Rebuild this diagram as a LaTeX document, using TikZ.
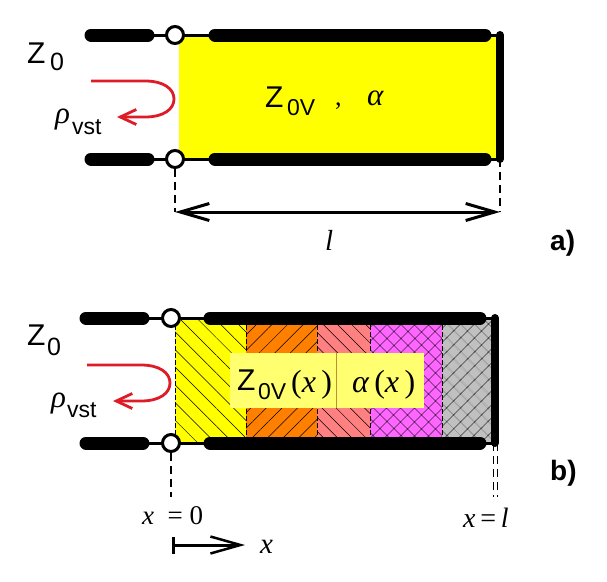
\documentclass[tikz,border=0pt]{standalone}
\usepackage{fontspec}
\setmainfont{Liberation Sans}
\newfontfamily\serifface{Liberation Serif}
\usetikzlibrary{arrows.meta}
\usetikzlibrary{patterns.meta}
\newcommand{\fsz}[1]{\fontsize{#1}{#1}\selectfont}
\tikzset{
	lead/.style={line width=13pt, line cap=round},
	wire/.style={line width=3pt},
	endbar/.style={line width=8pt, line cap=round},
	port/.style={circle, draw, line width=3pt, fill=white, minimum size=17pt, inner sep=0pt},
	guide/.style={line width=1.5pt, dash pattern=on 8pt off 5pt},
	guidethin/.style={line width=1pt, dash pattern=on 8pt off 5pt},
	reflect/.style={draw={rgb,255:red,222;green,28;blue,40}, line width=2.8pt, -{Straight Barb[length=16pt,width=15pt,line width=2.8pt]}},
	span/.style={line width=3pt, {Straight Barb[length=29pt,width=17pt,line width=3pt]}-{Straight Barb[length=29pt,width=17pt,line width=3pt]}},
	divider/.style={line width=.7pt, dash pattern=on 5pt off 2pt},
	hatchback/.style={pattern={Lines[angle=-45,distance=#1,line width=.5pt]}},
	hatchfwd/.style={pattern={Lines[angle=45,distance=#1,line width=.5pt]}},
	hatchcross/.style={pattern={Hatch[angle=45,distance=10.5pt,line width=.6pt]}},
}
\definecolor{segyellow}{RGB}{255,255,0}
\definecolor{segorange}{RGB}{255,128,0}
\definecolor{segsalmon}{RGB}{255,128,128}
\definecolor{segmagenta}{RGB}{255,102,255}
\definecolor{seggray}{RGB}{192,192,192}
\definecolor{labelyellow}{RGB}{255,255,112}
\begin{document}
\begin{tikzpicture}[x=1pt, y=-1pt]
	\useasboundingbox (0,0) rectangle (607,581);

	% part a
	\fill[segyellow] (179,35) rectangle (497,159);

	\begin{scope}[every node/.style={port}]
		\coordinate (aTL) at (91,35);
		\coordinate (aTA) at (148,35);
		\coordinate (aTB) at (215,35);
		\coordinate (aTC) at (485,35);
		\coordinate (aTR) at (500,35);
		\coordinate (aBL) at (91,159);
		\coordinate (aBA) at (148,159);
		\coordinate (aBB) at (215,159);
		\coordinate (aBC) at (485,159);
		\coordinate (aBR) at (500,159);
		\draw[wire] (aTA) -- (aTB) (aBA) -- (aBB) (aTC) -- (aTR) (aBC) -- (aBR);
		\draw[lead] (aTL) -- (aTA);
		\draw[lead] (aTB) -- (aTC);
		\draw[lead] (aBL) -- (aBA);
		\draw[lead] (aBB) -- (aBC);
		\draw[endbar] (aTR) -- (aBR);
		\node (aPortT) at (175,35) {};
		\node (aPortB) at (175,159) {};
	\end{scope}

	\coordinate (aDimL) at (175,212);
	\coordinate (aDimR) at (500,212);
	\draw[guide] (aPortB) -- (aDimL);
	\draw[guide] (aBR) -- (aDimR);
	\draw[span] (aDimL) -- (aDimR);

	\coordinate (aRhoA) at (91,81);
	\coordinate (aRhoB) at (117,117);
	\draw[reflect] (aRhoA) -- (145,81) .. controls (164,81) and (174,89) .. (174,99)
		.. controls (174,109) and (164,117) .. (145,117) -- (aRhoB);

	\begin{scope}[every node/.style={inner sep=0pt, anchor=base west}]
		\node (aZ) at (27,63) {\fsz{30}Z};
		\node (aZsub) at (50,70) {\fsz{25}0};
		\node (aRho) at (55,123) {\fsz{31}\serifface\itshape ρ};
		\node (aVst) at (72,134) {\fsz{23}vst};
		\node (aLine) at (265,107) {\fsz{30}Z};
		\node (aLsub) at (287,115) {\fsz{23}0V};
		\node (aComma) at (335,105) {\fsz{26}\serifface ,};
		\node (aAlpha) at (367,105) {\fsz{31}\serifface\itshape α};
		\node (aLen) at (325,250) {\fsz{29}\serifface\itshape l};
		\node (aTag) at (550,250) {\fsz{28}\bfseries a)};
	\end{scope}

	% part b
	\path[fill=segyellow] (175,318) rectangle (246,443);
	\path[hatchback=12.5pt] (175,318) rectangle (246,443);
	\path[fill=segorange] (246,318) rectangle (317,443);
	\path[hatchfwd=11pt] (246,318) rectangle (317,443);
	\path[fill=segsalmon] (317,318) rectangle (370,443);
	\path[hatchback=10pt] (317,318) rectangle (370,443);
	\path[fill=segmagenta] (370,318) rectangle (442,443);
	\path[hatchcross] (370,318) rectangle (442,443);
	\path[fill=seggray] (442,318) rectangle (493,443);
	\path[hatchcross] (442,318) rectangle (493,443);

	\foreach \i in {175,246,317,370,442}
		\draw[divider] (\i,318) -- (\i,443);

	\fill[labelyellow] (230,353) rectangle (424,408);
	\draw[line width=.8pt, draw={rgb,255:red,190;green,140;blue,60}] (336,353) -- (336,408);

	\begin{scope}[every node/.style={port}]
		\coordinate (bTL) at (86,318);
		\coordinate (bTA) at (143,318);
		\coordinate (bTB) at (210,318);
		\coordinate (bTC) at (480,318);
		\coordinate (bTR) at (495,318);
		\coordinate (bBL) at (86,443);
		\coordinate (bBA) at (143,443);
		\coordinate (bBB) at (210,443);
		\coordinate (bBC) at (480,443);
		\coordinate (bBR) at (495,443);
		\draw[wire] (bTA) -- (bTB) (bBA) -- (bBB) (bTC) -- (bTR) (bBC) -- (bBR);
		\draw[lead] (bTL) -- (bTA);
		\draw[lead] (bTB) -- (bTC);
		\draw[lead] (bBL) -- (bBA);
		\draw[lead] (bBB) -- (bBC);
		\draw[endbar] (bTR) -- (bBR);
		\node (bPortT) at (171,318) {};
		\node (bPortB) at (171,443) {};
	\end{scope}

	\coordinate (bOrigin) at (171,497);
	\coordinate (bEndA) at (493.5,443);
	\coordinate (bEndB) at (497,443);
	\coordinate (bEndC) at (493.5,497);
	\coordinate (bEndD) at (497,497);
	\draw[guide] (bPortB) -- (bOrigin);
	\draw[guidethin] (bEndA) -- (bEndC);
	\draw[guidethin] (bEndB) -- (bEndD);

	\coordinate (bRhoA) at (87,365);
	\coordinate (bRhoB) at (113,401);
	\draw[reflect] (bRhoA) -- (141,365) .. controls (160,365) and (170,373) .. (170,383)
		.. controls (170,393) and (160,401) .. (141,401) -- (bRhoB);

	\coordinate (bAxisA) at (172,545);
	\coordinate (bAxisB) at (245,545);
	\draw[line width=3pt, {Bar[width=17pt,line width=3pt]}-{Straight Barb[length=30pt,width=17pt,line width=2.5pt]}] (bAxisA) -- (bAxisB);

	\begin{scope}[every node/.style={inner sep=0pt, anchor=base west}]
		\node (bZ) at (27,345) {\fsz{30}Z};
		\node (bZsub) at (47,355) {\fsz{25}0};
		\node (bRho) at (51,407) {\fsz{31}\serifface\itshape ρ};
		\node (bVst) at (67,417) {\fsz{23}vst};
		\node (bLine) at (237,390) {\fsz{30}Z};
		\node (bLsub) at (258,399) {\fsz{23}0V};
		\node (bLarg) at (291,392) {\fsz{32}\serifface(\itshape x\upshape\,)};
		\node (bAlpha) at (352,392) {\fsz{32}\serifface\itshape α\upshape\,(\itshape x\upshape\,)};
		\node (bZeroText) at (142,524) {\fsz{27}\serifface\itshape x\upshape\ \ = 0};
		\node (bLen) at (463,527) {\fsz{28}\serifface\itshape x\upshape\,=\,\itshape l};
		\node (bVar) at (260,553) {\fsz{29}\serifface\itshape x};
		\node (bTag) at (550,480) {\fsz{28}\bfseries b)};
	\end{scope}
\end{tikzpicture}
\end{document}
